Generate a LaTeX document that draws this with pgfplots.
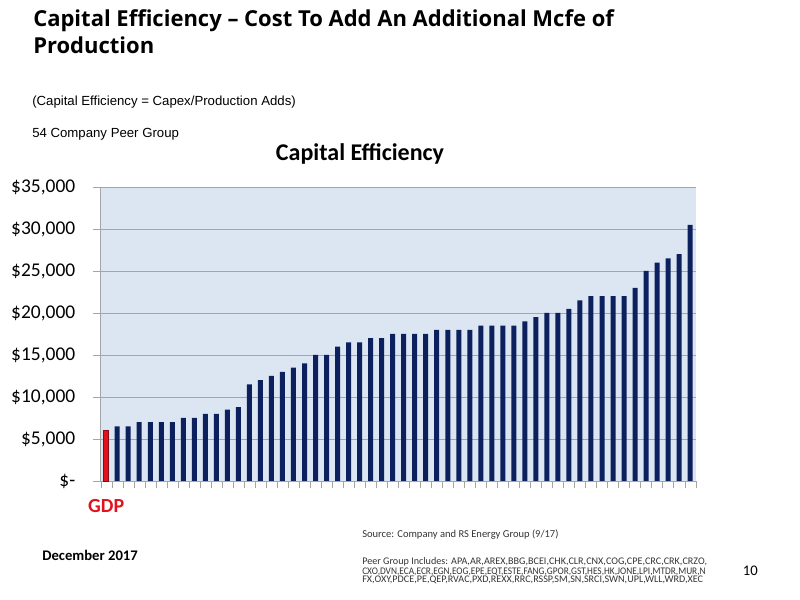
\documentclass[border=0pt]{standalone}
\usepackage{pgfplots}
\pgfplotsset{compat=1.18}
\usepackage{pgfplotstable}
\usepackage{fontspec}
\setmainfont{Carlito}
\newfontfamily\arial{Liberation Sans}
\newfontfamily\opensans{Open Sans}

\definecolor{navy}{RGB}{12,32,94}
\definecolor{gdpred}{RGB}{226,18,28}
\definecolor{plotbg}{RGB}{220,230,242}
\definecolor{gridgray}{RGB}{165,165,165}

% peers, sorted (x = 1..53)
\pgfplotstableread{
x y
1 6500
2 6500
3 7000
4 7000
5 7000
6 7000
7 7500
8 7500
9 8000
10 8000
11 8500
12 8800
13 11500
14 12000
15 12500
16 13000
17 13500
18 14000
19 15000
20 15000
21 16000
22 16500
23 16500
24 17000
25 17000
26 17500
27 17500
28 17500
29 17500
30 18000
31 18000
32 18000
33 18000
34 18500
35 18500
36 18500
37 18500
38 19000
39 19500
40 20000
41 20000
42 20500
43 21500
44 22000
45 22000
46 22000
47 22000
48 23000
49 25000
50 26000
51 26500
52 27000
53 30500
}\peers

\begin{document}
\begin{tikzpicture}
\useasboundingbox (0,0) rectangle (600pt,450pt);

% page texts
\node[anchor=base west, inner sep=0pt, font=\opensans\fontsize{16.5}{19}\selectfont\bfseries] at (24.75pt,429.75pt) {Capital Efficiency – Cost To Add An Additional Mcfe of};
\node[anchor=base west, inner sep=0pt, font=\opensans\fontsize{16.5}{19}\selectfont\bfseries] at (24.75pt,409.5pt) {Production};
\node[anchor=base west, inner sep=0pt, font=\arial\fontsize{9.9}{11}\selectfont] at (24pt,370.5pt) {(Capital Efficiency = Capex/Production Adds)};
\node[anchor=base west, inner sep=0pt, font=\arial\fontsize{9.9}{11}\selectfont] at (24pt,346.5pt) {54 Company Peer Group};
\node[anchor=base, inner sep=0pt, font=\fontsize{18}{21}\selectfont\bfseries] at (270pt,329.25pt) {Capital Efficiency};

\begin{axis}[
  at={(75.5pt,89.25pt)}, anchor=south west,
  scale only axis,
  width=446.25pt, height=220.5pt,
  ybar, bar width=3.75pt, bar shift=0pt,
  xmin=-0.5, xmax=53.5,
  ymin=0, ymax=35000,
  axis background/.style={fill=plotbg},
  axis x line*=bottom, axis y line*=left,
  axis line style={gridgray, -},
  ymajorgrids, major grid style={gridgray},
  tick align=outside,
  major tick length=5.5pt,
  tick style={gridgray},
  xtick={-0.5,0.5,...,53.5}, xticklabels={},
  ytick={0,5000,...,35000},
  scaled y ticks=false,
  yticklabels={{\$-},{\$5,000},{\$10,000},{\$15,000},{\$20,000},{\$25,000},{\$30,000},{\$35,000}},
  yticklabel style={font=\fontsize{14.6}{17}\selectfont, xshift=-10pt},
  clip=false,
]
\addplot[fill=gdpred, draw=gdpred!60!black] coordinates {(0,6000)};
\addplot[fill=navy, draw=none] table[x=x, y=y] {\peers};
\node[anchor=base, inner sep=0pt, text=gdpred, font=\fontsize{15}{18}\selectfont\bfseries] at (axis cs:0,0) [yshift=-24pt] {GDP};
\end{axis}

\node[anchor=base west, inner sep=0pt, font=\fontsize{11}{13}\selectfont\bfseries] at (31.5pt,29.25pt) {December 2017};
\node[anchor=base west, inner sep=0pt, text=black!80, font=\fontsize{7.9}{9}\selectfont] at (271.5pt,46.5pt) {Source: Company and RS Energy Group (9/17)};
\node[anchor=base west, inner sep=0pt, text=black!80, font=\fontsize{7.6}{8}\selectfont] at (271.5pt,27pt) {Peer Group Includes: APA,AR,AREX,BBG,BCEI,CHK,CLR,CNX,COG,CPE,CRC,CRK,CRZO,};
\node[anchor=base west, inner sep=0pt, text=black!80, font=\fontsize{7.6}{8}\selectfont] at (271.5pt,19.5pt) {\scalebox{0.92}[1]{CXO,DVN,ECA,ECR,EGN,EOG,EPE,EQT,ESTE,FANG,GPOR,GST,HES,HK,JONE,LPI,MTDR,MUR,N}};
\node[anchor=base west, inner sep=0pt, text=black!80, font=\fontsize{7.6}{8}\selectfont] at (271.5pt,12.75pt) {FX,OXY,PDCE,PE,QEP,RVAC,PXD,REXX,RRC,RSSP,SM,SN,SRCI,SWN,UPL,WLL,WRD,XEC};
\node[anchor=base west, inner sep=0pt, font=\fontsize{11}{13}\selectfont] at (557pt,18.75pt) {10};
\end{tikzpicture}
\end{document}
